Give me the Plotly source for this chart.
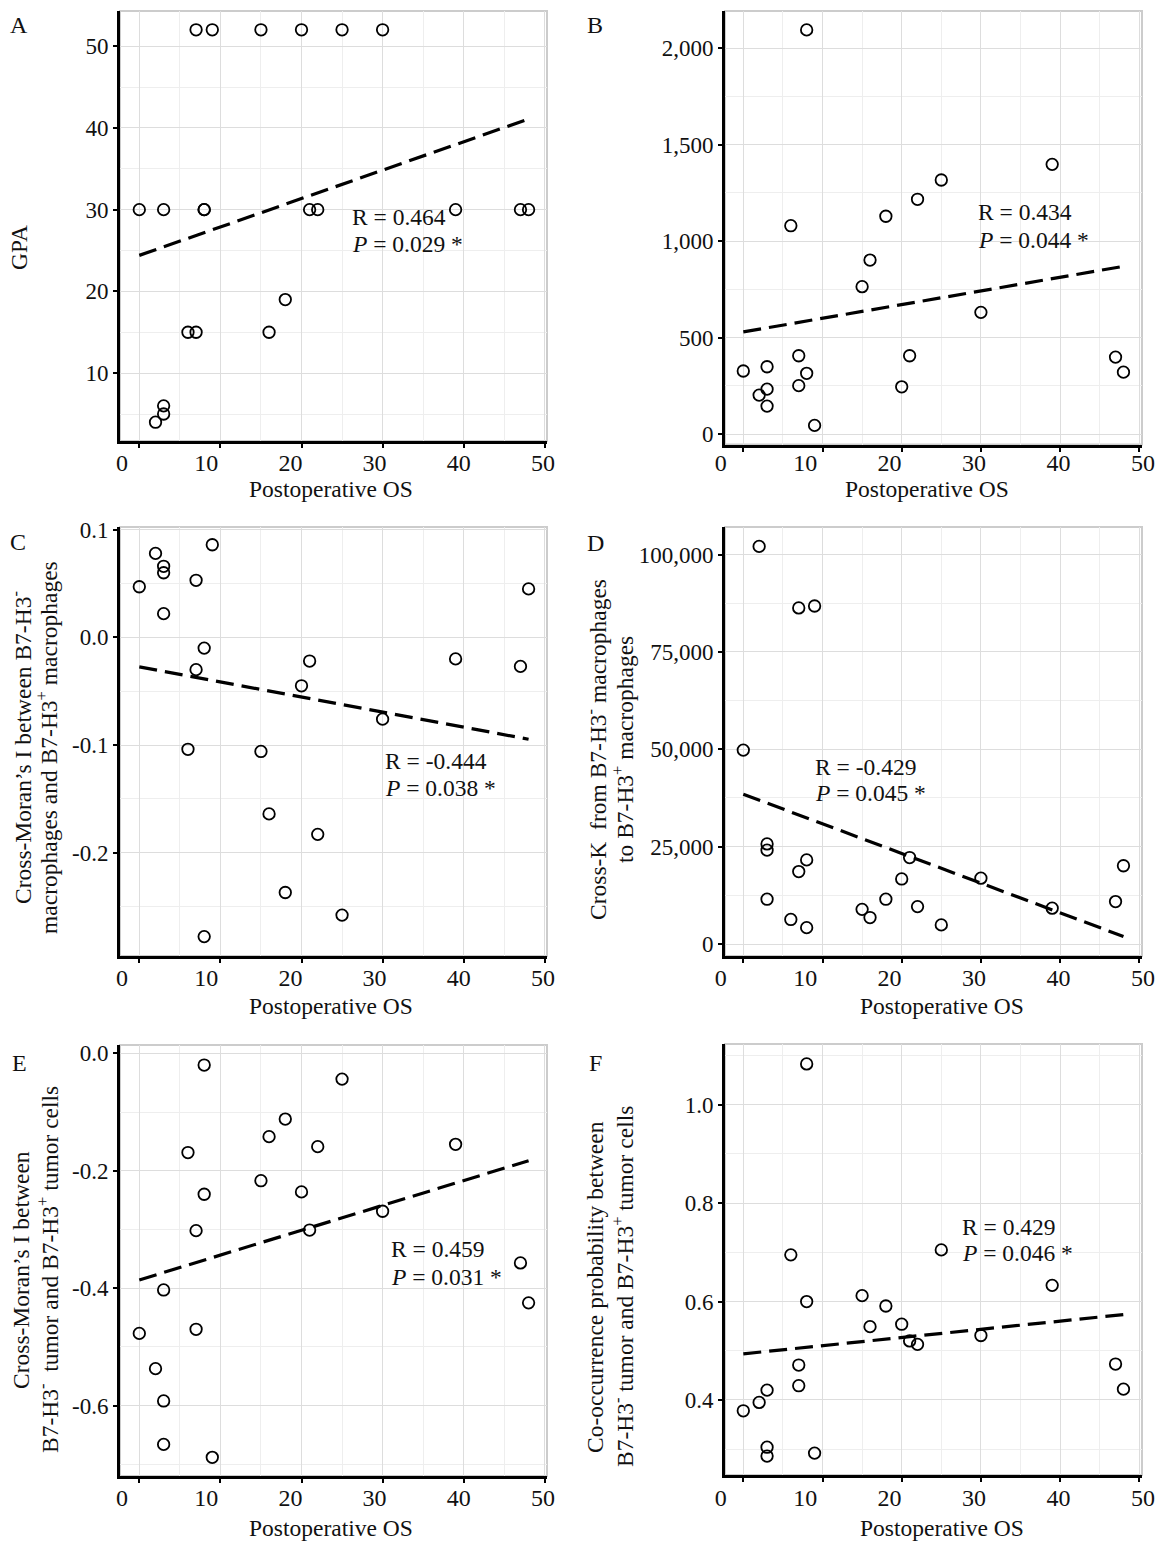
import numpy as np
import plotly.graph_objects as go

W, H = 1167, 1549
FONT = "Liberation Serif"

# ---------------- data ----------------
os_months = [0, 2, 3, 3, 3, 6, 7, 7, 8, 8, 9, 15, 16, 18, 20, 21, 22, 25, 30, 39, 47, 48]

gpa = [30, 4, 30, 6, 5, 15, 15, 52, 30, 30, 52, 52, 15, 19, 52, 30, 30, 52, 52, 30, 30, 30]
density_b = [327, 202, 349, 233, 145, 1080, 406, 251, 2095, 315, 45, 764, 902, 1129,
             245, 406, 1217, 1317, 631, 1398, 399, 321]
moran_macro = [0.047, 0.078, 0.066, 0.060, 0.022, -0.104, -0.030, 0.053, -0.010, -0.278,
               0.086, -0.106, -0.164, -0.237, -0.045, -0.022, -0.183, -0.258, -0.076,
               -0.020, -0.027, 0.045]
cross_k = [49800, 102100, 25700, 24100, 11500, 6300, 86300, 18600, 21600, 4200, 86800,
           8900, 6800, 11500, 16700, 22200, 9600, 4900, 16900, 9200, 10900, 20100]
moran_tumor = [-0.477, -0.537, -0.403, -0.592, -0.666, -0.169, -0.302, -0.470, -0.020,
               -0.240, -0.688, -0.217, -0.142, -0.112, -0.236, -0.301, -0.159, -0.044,
               -0.269, -0.155, -0.357, -0.425]
cooccur = [0.378, 0.395, 0.420, 0.304, 0.286, 0.695, 0.471, 0.429, 1.083, 0.600, 0.292,
           0.612, 0.549, 0.591, 0.554, 0.520, 0.513, 0.705, 0.531, 0.633, 0.473, 0.422]

series = [gpa, density_b, moran_macro, cross_k, moran_tumor, cooccur]

x_tick_values = [0, 10, 20, 30, 40, 50]
x_tick_labels = ["0", "10", "20", "30", "40", "50"]

y_tick_values = [
    [10, 20, 30, 40, 50],
    [0, 500, 1000, 1500, 2000],
    [-0.2, -0.1, 0.0, 0.1],
    [0, 25000, 50000, 75000, 100000],
    [-0.6, -0.4, -0.2, 0.0],
    [0.4, 0.6, 0.8, 1.0],
]
y_tick_labels = [
    ["10", "20", "30", "40", "50"],
    ["0", "500", "1,000", "1,500", "2,000"],
    ["-0.2", "-0.1", "0.0", "0.1"],
    ["0", "25,000", "50,000", "75,000", "100,000"],
    ["-0.6", "-0.4", "-0.2", "0.0"],
    ["0.4", "0.6", "0.8", "1.0"],
]
y_minor_step = [5, 250, 0.05, 12500, 0.1, 0.1]

panel_letters = ["A", "B", "C", "D", "E", "F"]
r_texts = ["R = 0.464", "R = 0.434", "R = -0.444", "R = -0.429", "R = 0.459", "R = 0.429"]
p_texts = ["0.029 *", "0.044 *", "0.038 *", "0.045 *", "0.031 *", "0.046 *"]

y_titles = [
    ["GPA"],
    [],
    ["Cross-Moran’s I between B7-H3<sup>-</sup>", "macrophages and B7-H3<sup>+</sup> macrophages"],
    ["Cross-K  from B7-H3<sup>-</sup> macrophages", "to B7-H3<sup>+</sup> macrophages"],
    ["Cross-Moran’s I between", "B7-H3<sup>-</sup>  tumor and B7-H3<sup>+</sup> tumor cells"],
    ["Co-occurrence probability between", "B7-H3<sup>-</sup> tumor and B7-H3<sup>+</sup> tumor cells"],
]
x_title = "Postoperative OS"

# ---------------- layout geometry (pixels) ----------------
frames = [(120, 547, 11, 441), (725, 1142, 11, 444.5),
          (120, 547, 527, 956), (725, 1142, 527, 956),
          (120, 547, 1045, 1476), (725, 1142, 1044, 1475)]
y_ranges = [[1.7, 54.3], [-54, 2193], [-0.296, 0.1025],
            [-3080, 107084], [-0.7198, 0.0141], [0.2475, 1.1235]]
# gridline anchors: pixel of x=0 and px per unit
grid_anchor = {0: (139.3, 8.11), 1: (743.3, 7.92)}
# tick-label anchors: pixel of label "0" and px per unit
label_anchor = {0: (122.0, 8.42), 1: (720.7, 8.446)}
label_dom = {0: (88, 580), 1: (693, 1166)}
label_row_y = [463, 463, 978, 978, 1498, 1498]   # centre of the x tick-label row
label_offset = 27                                 # default distance axis -> label centre
annot_pos = [(26.0, 29.1, 25.8), (29.4, 1149, 1006), (30.0, -0.1148, -0.1396),
             (8.8, 45509, 38666), (30.8, -0.3332, -0.3804), (27.4, 0.7525, 0.6983)]
letter_pos = [(19, 25), (595, 25), (18, 542), (595, 543), (19, 1063), (595, 1063)]
xtitle_pos = [(331, 489), (927, 489), (331, 1006), (942, 1006), (331, 1528), (942, 1528)]
ytitle_pos = [([19], 248), ([], 0), ([21, 47], 748), ([596, 623], 750),
              ([21, 48], 1270), ([595, 623], 1287)]

fig = go.Figure()
layout = dict(width=W, height=H, margin=dict(l=0, r=0, t=0, b=0, pad=0),
              paper_bgcolor="white", plot_bgcolor="rgba(0,0,0,0)",
              showlegend=False, font=dict(family=FONT, color="#111111"))
annotations = []
shapes = []

for i in range(6):
    n = i + 1
    col = i % 2
    l, r, t, b = frames[i]
    xd = [l / W, r / W]
    yd = [1 - b / H, 1 - t / H]
    g0, gs = grid_anchor[col]
    xr = [(l - g0) / gs, (r - g0) / gs]
    sfx = "" if n == 1 else str(n)

    ys = series[i]
    slope, icpt = np.polyfit(os_months, ys, 1)
    xl = np.array([min(os_months), max(os_months)], dtype=float)
    fig.add_trace(go.Scatter(x=xl, y=slope * xl + icpt, mode="lines",
                             line=dict(color="black", width=3.2, dash="18px,8px"),
                             xaxis="x" + sfx, yaxis="y" + sfx, hoverinfo="skip"))
    fig.add_trace(go.Scatter(x=os_months, y=ys, mode="markers",
                             marker=dict(symbol="circle-open", size=11.5, color="black",
                                         line=dict(width=1.8)),
                             xaxis="x" + sfx, yaxis="y" + sfx))

    layout["xaxis" + sfx] = dict(
        domain=xd, range=xr, anchor="y" + sfx, showticklabels=False, automargin=False,
        tickmode="array", tickvals=x_tick_values,
        ticks="outside", ticklen=4, tickwidth=1.5, tickcolor="black",
        showgrid=True, gridcolor="#dddddd", gridwidth=1,
        minor=dict(dtick=5, tick0=0, showgrid=True, gridcolor="#eeeeee", ticks=""),
        zeroline=False, showline=True, linecolor="black", linewidth=3, fixedrange=True)
    layout["yaxis" + sfx] = dict(
        domain=yd, range=y_ranges[i], anchor="x" + sfx, automargin=False,
        tickmode="array", tickvals=y_tick_values[i], ticktext=y_tick_labels[i],
        tickfont=dict(size=23, family=FONT, color="#111111"),
        ticks="outside", ticklen=4, tickwidth=1.5, tickcolor="black",
        showgrid=True, gridcolor="#dddddd", gridwidth=1,
        minor=dict(dtick=y_minor_step[i], tick0=0, showgrid=True, gridcolor="#eeeeee", ticks=""),
        zeroline=False, showline=True, linecolor="black", linewidth=3, fixedrange=True)

    # tick-label axis (labels sit at their own positions, as in the reference)
    m = n + 6
    L0, ls = label_anchor[col]
    dl, dr = label_dom[col]
    layout["xaxis%d" % m] = dict(
        domain=[dl / W, dr / W], range=[(dl - L0) / ls, (dr - L0) / ls], anchor="y%d" % m,
        automargin=False,
        tickmode="array", tickvals=x_tick_values, ticktext=x_tick_labels,
        tickfont=dict(size=24, family=FONT, color="#111111"),
        ticks="outside", ticklen=5, tickcolor="rgba(0,0,0,0)",
        showgrid=False, zeroline=False, showline=False, fixedrange=True)
    lab_bottom = label_row_y[i] - label_offset
    layout["yaxis%d" % m] = dict(
        domain=[1 - lab_bottom / H, 1 - t / H], range=[0, 1], fixedrange=True,
        automargin=False,
        showticklabels=False, showgrid=False, showline=False, zeroline=False, ticks="")
    fig.add_trace(go.Scatter(x=[-100], y=[-100], mode="markers", xaxis="x%d" % m,
                             yaxis="y%d" % m, hoverinfo="skip", marker=dict(opacity=0)))

    shapes.append(dict(type="rect", xref="paper", yref="paper",
                       x0=xd[0], x1=xd[1], y0=yd[0], y1=yd[1],
                       line=dict(color="#cccccc", width=2), layer="below"))

    ax, ry, py = annot_pos[i]
    annotations.append(dict(x=ax, y=ry, xref="x" + sfx, yref="y" + sfx, text=r_texts[i],
                            showarrow=False, xanchor="left", yanchor="middle",
                            font=dict(size=23.5, family=FONT, color="#111111")))
    annotations.append(dict(x=ax, y=py, xref="x" + sfx, yref="y" + sfx,
                            text="<i>P</i> = " + p_texts[i],
                            showarrow=False, xanchor="left", yanchor="middle",
                            font=dict(size=23.5, family=FONT, color="#111111")))

    lx, ly = letter_pos[i]
    annotations.append(dict(x=lx / W, y=1 - ly / H, xref="paper", yref="paper",
                            text=panel_letters[i], showarrow=False,
                            xanchor="center", yanchor="middle",
                            font=dict(size=24, family=FONT, color="#111111")))
    tx, ty = xtitle_pos[i]
    annotations.append(dict(x=tx / W, y=1 - ty / H, xref="paper", yref="paper",
                            text=x_title, showarrow=False,
                            xanchor="center", yanchor="middle",
                            font=dict(size=23.5, family=FONT, color="#111111")))
    xs_t, yc = ytitle_pos[i]
    for k, line_txt in enumerate(y_titles[i]):
        annotations.append(dict(x=xs_t[k] / W, y=1 - yc / H, xref="paper", yref="paper",
                                text=line_txt, showarrow=False, textangle=-90,
                                xanchor="center", yanchor="middle",
                                font=dict(size=23.5, family=FONT, color="#111111")))

layout["annotations"] = annotations
layout["shapes"] = shapes
fig.update_layout(**layout)
fig.write_html("out.html")
